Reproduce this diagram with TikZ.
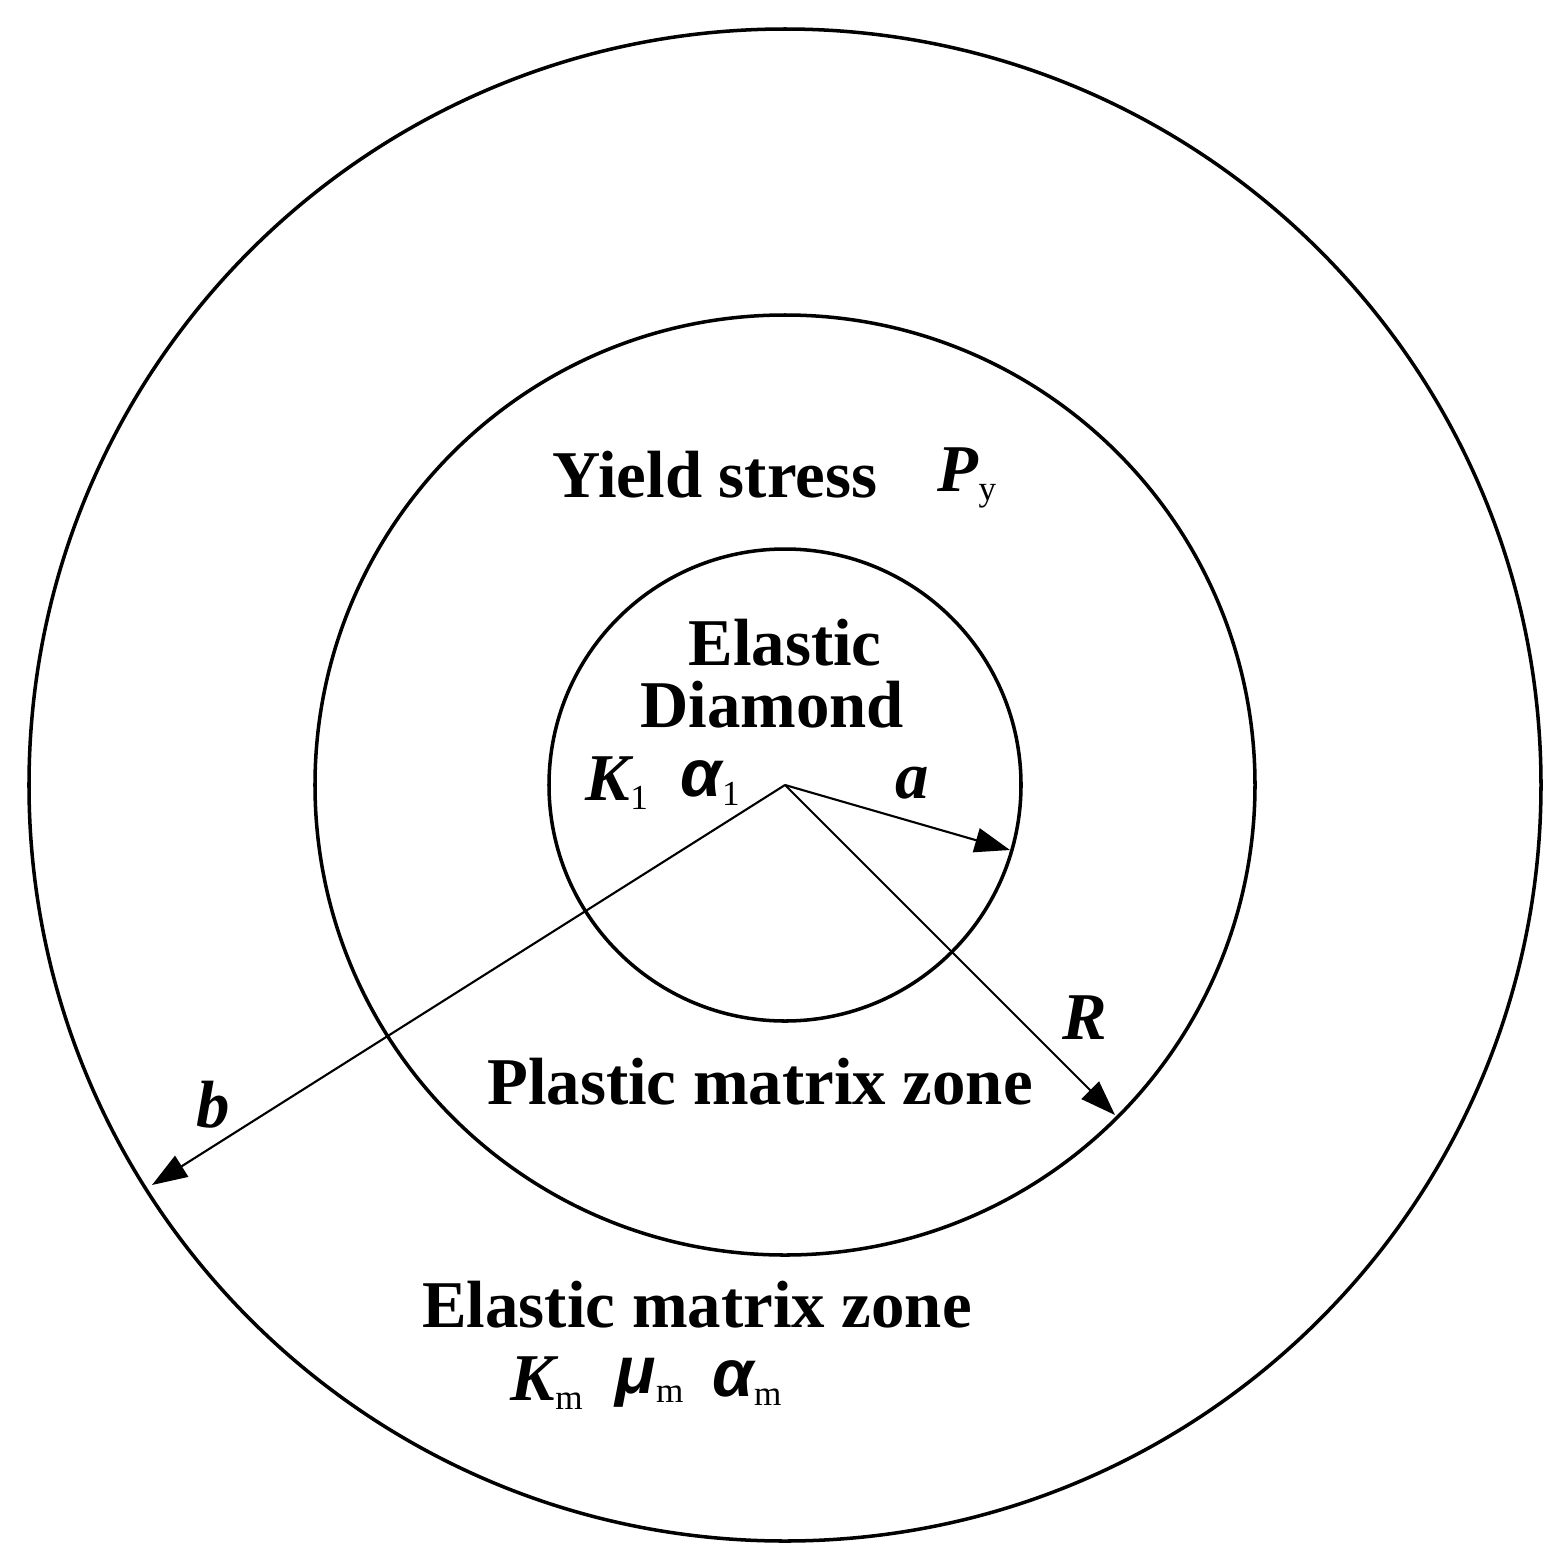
\documentclass[tikz,border=0pt]{standalone}
\usepackage{fontspec}
\setmainfont{Liberation Serif}
\newfontfamily\arialf{Liberation Sans}
\usetikzlibrary{arrows.meta}
\begin{document}
\begin{tikzpicture}[x=0.01cm,y=-0.01cm,
  ring/.style={line width=1pt},
  radarrow/.style={line width=0.6pt,-{Triangle[length=10pt,width=7pt]}},
  lbl/.style={font=\fontsize{19}{22}\selectfont\bfseries, inner sep=0},
  var/.style={font=\fontsize{19}{22}\selectfont\bfseries\itshape, inner sep=0}]
\useasboundingbox (0,0) rectangle (1566,1563);
\coordinate (c) at (785,785);
\draw[ring] (c) circle[radius=756];
\draw[ring] (c) circle[radius=470];
\draw[ring] (c) circle[radius=236];
\coordinate (ea) at (1010,850);
\coordinate (eR) at (1115,1115);
\coordinate (eb) at (152,1185);
\draw[radarrow] (c) -- (ea);
\draw[radarrow] (c) -- (eR);
\draw[radarrow] (c) -- (eb);
\node[lbl] (ys) at (715,475) {Yield stress};
\node[var,anchor=west] (py) at (937,478) {P\textsubscript{\normalfont\fontsize{10}{12}\selectfont y}};
\node[lbl] (el) at (785,643) {Elastic};
\node[lbl] (di) at (772,705) {Diamond};
\node[var,anchor=west] (k1) at (585,783) {K\textsubscript{\normalfont\fontsize{10}{12}\selectfont 1}};
\node[lbl,anchor=west] (a1) at (680,783) {\arialf\itshape α\textsubscript{\normalfont\fontsize{10}{12}\selectfont 1}};
\node[var] (la) at (912,783) {a};
\node[var] (lR) at (1085,1018) {R};
\node[lbl] (pm) at (760,1082) {Plastic matrix zone};
\node[var] (lb) at (213,1105) {b};
\node[lbl] (em) at (697,1305) {Elastic matrix zone};
\node[var,anchor=west] (km) at (510,1383) {K\textsubscript{\normalfont\fontsize{10}{12}\selectfont m}};
\node[lbl,anchor=west] (mu) at (615,1383) {\arialf\itshape μ\textsubscript{\normalfont\fontsize{10}{12}\selectfont m}};
\node[lbl,anchor=west] (am) at (712,1383) {\arialf\itshape α\textsubscript{\normalfont\fontsize{10}{12}\selectfont m}};
\end{tikzpicture}
\end{document}
